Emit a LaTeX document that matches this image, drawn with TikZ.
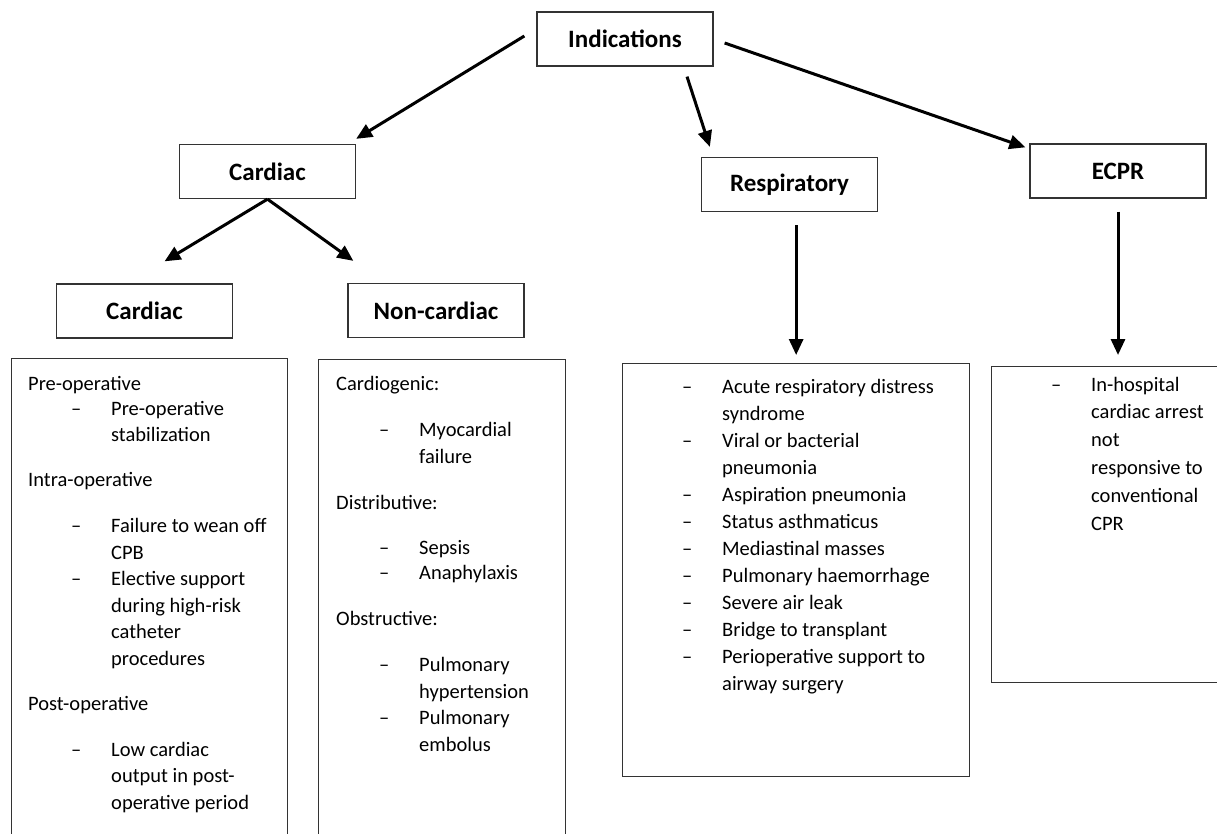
\documentclass[tikz,border=0pt]{standalone}
\usepackage{fontspec}
\setmainfont{Carlito}
\usetikzlibrary{arrows.meta}

\newcommand{\itemline}[1]{\makebox[83pt][l]{\hspace*{43pt}\textendash}#1}
\newcommand{\contline}[1]{\hspace*{83pt}#1}

\begin{document}
\begin{tikzpicture}[x=1pt,y=-1pt,
    headbox/.style={draw=black!80, line width=1.3pt, rectangle, minimum width=176pt,
      minimum height=54pt, inner sep=0pt, font=\fontsize{25pt}{30pt}\selectfont\bfseries},
    listbox/.style={draw=black!80, line width=1.3pt, rectangle, anchor=north west, inner sep=0pt},
    listtext/.style={anchor=base west, align=left, inner sep=0pt,
      font=\fontsize{20.5pt}{26.5pt}\selectfont},
    arr/.style={line width=3pt, -{Triangle[length=16pt,width=14pt]}}]
    \useasboundingbox (0,0) rectangle (1217,834);
    \clip (0,0) rectangle (1217,834);
    % top level
    \node[headbox] (ind) at (625,39) {Indications};
    \node[headbox] (cardtop) at (267.5,171.5) {Cardiac};
    \node[headbox] (resp) at (789.5,184.5) {Respiratory};
    \node[headbox] (ecpr) at (1118,171) {ECPR};
    \node[headbox] (subcard) at (144.5,311) {Cardiac};
    \node[headbox] (noncard) at (436,310.5) {Non-cardiac};
    % list boxes
    \node[listbox, minimum width=276pt, minimum height=500pt] (cardlist) at (11,358) {};
    \node[listbox, minimum width=247pt, minimum height=500pt] (noncardlist) at (318,359) {};
    \node[listbox, minimum width=347pt, minimum height=413pt] (resplist) at (622,363) {};
    \node[listbox, minimum width=260pt, minimum height=316pt] (ecprlist) at (991,366) {};
    % list texts (placed by the baseline of their last line)
    \node[listtext] (cardtxt) at (28,809) {Pre-operative\\[-1.5pt]
      \itemline{Pre-operative}\\
      \contline{stabilization}\\[18.5pt]
      Intra-operative\\[19.5pt]
      \itemline{Failure to wean off}\\
      \contline{CPB}\\
      \itemline{Elective support}\\
      \contline{during high-risk}\\
      \contline{catheter}\\
      \contline{procedures}\\[18.5pt]
      Post-operative\\[19.5pt]
      \itemline{Low cardiac}\\
      \contline{output in post-}\\
      \contline{operative period}};
    \node[listtext] (noncardtxt) at (336,751) {Cardiogenic:\\[19.5pt]
      \itemline{Myocardial}\\
      \contline{failure}\\[19.5pt]
      Distributive:\\[19pt]
      \itemline{Sepsis}\\[-1.5pt]
      \itemline{Anaphylaxis}\\[19.5pt]
      Obstructive:\\[19.5pt]
      \itemline{Pulmonary}\\
      \contline{hypertension}\\
      \itemline{Pulmonary}\\
      \contline{embolus}};
    \node[listtext, font=\fontsize{20.5pt}{27pt}\selectfont] (resptxt) at (639,690) {%
      \itemline{Acute respiratory distress}\\
      \contline{syndrome}\\
      \itemline{Viral or bacterial}\\
      \contline{pneumonia}\\
      \itemline{Aspiration pneumonia}\\
      \itemline{Status asthmaticus}\\
      \itemline{Mediastinal masses}\\
      \itemline{Pulmonary haemorrhage}\\
      \itemline{Severe air leak}\\
      \itemline{Bridge to transplant}\\
      \itemline{Perioperative support to}\\
      \contline{airway surgery}};
    \node[listtext, font=\fontsize{20.5pt}{27.8pt}\selectfont] (ecprtxt) at (1008,530) {%
      \itemline{In-hospital}\\
      \contline{cardiac arrest}\\
      \contline{not}\\
      \contline{responsive to}\\
      \contline{conventional}\\
      \contline{CPR}};
    % arrows
    \draw[arr] ([xshift=-12pt,yshift=3pt]ind.west) -- ([yshift=5pt]cardtop.north east);
    \draw[arr] ([shift={(62pt,-10pt)}]ind.south) -- ([shift={(9pt,10pt)}]resp.north west);
    \draw[arr] ([shift={(11pt,-4pt)}]ind.east) -- ([shift={(-4pt,-4pt)}]ecpr.north west);
    \draw[arr] (cardtop.south) -- ([shift={(20pt,22pt)}]subcard.north);
    \draw[arr] (cardtop.south) -- ([shift={(6pt,22pt)}]noncard.north west);
    \draw[arr, shorten <=13pt, shorten >=8pt] (resp.south -| resplist.north) -- (resplist.north);
    \draw[arr, shorten <=13pt, shorten >=11pt] (ecpr.south) -- (ecpr.south |- ecprlist.north);
\end{tikzpicture}
\end{document}
